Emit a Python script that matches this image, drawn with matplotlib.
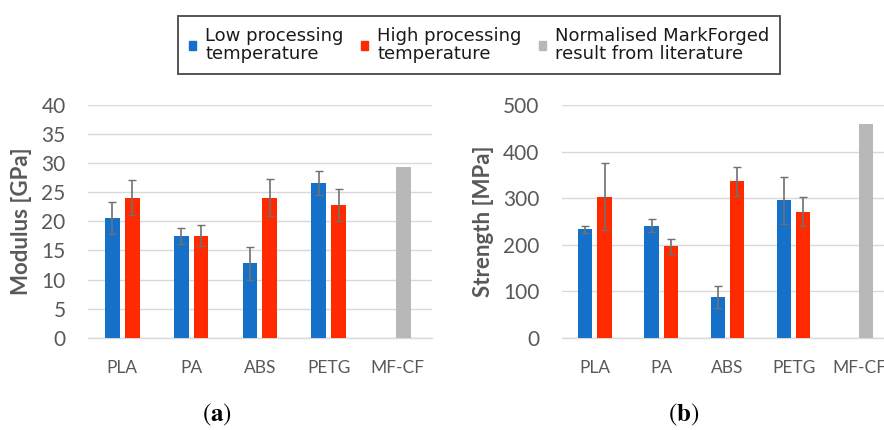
import matplotlib
matplotlib.use("Agg")
import matplotlib.pyplot as plt
import numpy as np
from matplotlib.patches import Patch

categories = ["PLA", "PA", "ABS", "PETG", "MF-CF"]

modulus_low = [20.6, 17.5, 12.8, 26.6]
modulus_low_err = [2.8, 1.4, 2.8, 2.0]
modulus_high = [24.1, 17.5, 24.1, 22.8]
modulus_high_err = [3.0, 1.8, 3.2, 2.7]
modulus_mf = [29.3]

strength_low = [233, 241, 87, 295]
strength_low_err = [7, 14, 24, 51]
strength_high = [303, 196, 336, 271]
strength_high_err = [72, 17, 31, 32]
strength_mf = [460]

BLUE = "#1470c8"
RED = "#ff2a00"
GREY = "#b8b8b8"
TEXT = "#595959"
GRID = "#d9d9d9"

plt.rcParams["font.family"] = ["Lato", "DejaVu Sans"]
plt.rcParams["mathtext.fontset"] = "stix"

fig = plt.figure(figsize=(8.84, 4.30), dpi=100)
ax_a = fig.add_axes([0.0995, 0.2147, 0.389, 0.541])
ax_b = fig.add_axes([0.6356, 0.2147, 0.3745, 0.541])


def draw_panel(ax, low, low_err, high, high_err, mf, ymax, step, ylabel):
    x = np.arange(len(low))
    w = 0.215
    err_kw = dict(ecolor="#707070", elinewidth=1.2, capsize=3, capthick=1.0)
    ax.bar(x - 0.145, low, w, color=BLUE, yerr=low_err, error_kw=err_kw, zorder=3)
    ax.bar(x + 0.145, high, w, color=RED, yerr=high_err, error_kw=err_kw, zorder=3)
    ax.bar([len(low) + 0.09], mf, w, color=GREY, zorder=3)
    ax.set_xlim(-0.5, len(categories) - 0.5)
    ax.set_ylim(0, ymax)
    ax.set_yticks(np.arange(0, ymax + step / 2, step))
    ax.set_xticks(np.arange(len(categories)))
    ax.set_xticklabels(categories)
    ax.grid(axis="y", color=GRID, linewidth=1.0, zorder=0)
    for side in ["top", "right", "left"]:
        ax.spines[side].set_visible(False)
    ax.spines["bottom"].set_color(GRID)
    ax.spines["bottom"].set_linewidth(1.0)
    ax.tick_params(axis="y", length=0, labelsize=15, labelcolor=TEXT, pad=16)
    ax.tick_params(axis="x", length=0, labelsize=12.5, labelcolor=TEXT, pad=16)
    ax.set_ylabel(ylabel, fontsize=16, fontweight="bold", color=TEXT, labelpad=7)


draw_panel(ax_a, modulus_low, modulus_low_err, modulus_high, modulus_high_err,
           modulus_mf, 40, 5, "Modulus [GPa]")
draw_panel(ax_b, strength_low, strength_low_err, strength_high, strength_high_err,
           strength_mf, 500, 100, "Strength [MPa]")

handles = [
    Patch(color=BLUE, label="Low processing\ntemperature"),
    Patch(color=RED, label="High processing\ntemperature"),
    Patch(color=GREY, label="Normalised MarkForged\nresult from literature"),
]
leg = fig.legend(handles=handles, loc="center", bbox_to_anchor=(0.542, 0.8953),
                 ncol=3, frameon=True, fancybox=False, edgecolor="#1a1a1a",
                 handlelength=0.4, handleheight=0.4, handletextpad=0.5,
                 columnspacing=0.95, borderpad=0.6, borderaxespad=0,
                 prop={"family": "DejaVu Sans", "size": 13})
leg.get_frame().set_linewidth(1.3)
for t in leg.get_texts():
    t.set_color("#1a1a1a")
    t.set_linespacing(1.0)

fig.text(0.2455, 0.035, r"($\mathbf{a}$)", ha="center", va="center", fontsize=18,
         family="STIXGeneral")
fig.text(0.773, 0.035, r"($\mathbf{b}$)", ha="center", va="center", fontsize=18,
         family="STIXGeneral")

fig.savefig("out.png", dpi=100)
